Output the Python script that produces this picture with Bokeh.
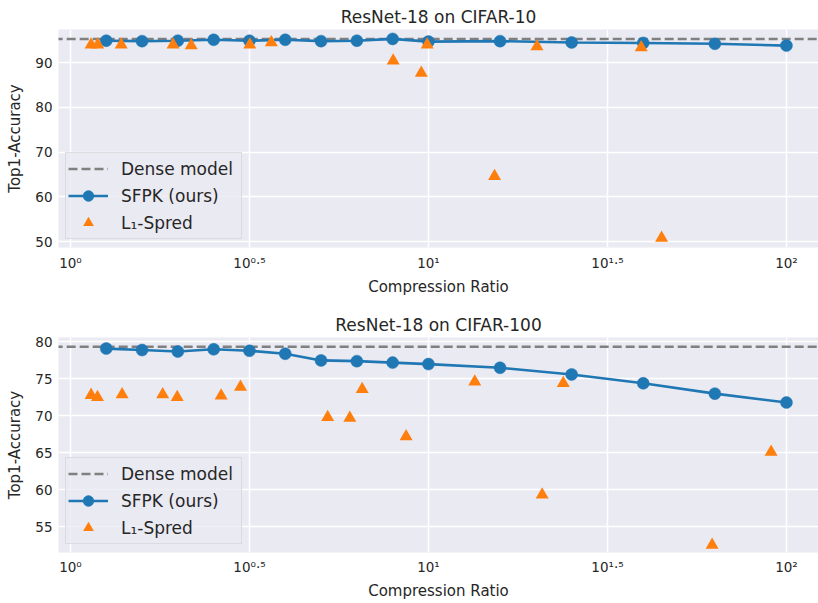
from bokeh.plotting import figure
from bokeh.models import FixedTicker, Legend, LegendItem, Range1d
from bokeh.layouts import column
from bokeh.embed import file_html
from bokeh.resources import INLINE

# ---------------- data ----------------
titles = ["ResNet-18 on CIFAR-10", "ResNet-18 on CIFAR-100"]

sfpk_ratio = [1.259, 1.585, 1.995, 2.512, 3.162, 3.981, 5.012, 6.310, 7.943,
              10.0, 15.85, 25.12, 39.81, 63.10, 100.0]

c10_sfpk_acc = [94.9, 94.8, 94.9, 95.1, 94.9, 95.1, 94.8, 94.9, 95.3,
                94.7, 94.8, 94.5, 94.4, 94.2, 93.8]
c10_dense_acc = 95.3
c10_l1_ratio = [1.142, 1.192, 1.386, 1.935, 2.174, 3.17, 3.64, 7.97, 9.55,
                9.92, 15.3, 20.1, 39.3, 44.8]
c10_l1_acc = [94.0, 94.0, 94.0, 94.0, 93.8, 94.0, 94.5, 90.4, 87.7,
              94.0, 64.6, 93.6, 93.4, 50.8]

c100_sfpk_acc = [79.1, 78.9, 78.7, 79.0, 78.8, 78.4, 77.5, 77.4, 77.2,
                 77.0, 76.5, 75.6, 74.4, 73.0, 71.8]
c100_dense_acc = 79.35
c100_l1_ratio = [1.142, 1.19, 1.394, 1.81, 1.987, 2.636, 2.985, 5.23, 6.03,
                 6.53, 8.66, 13.47, 20.78, 23.8, 62.0, 90.6]
c100_l1_acc = [72.8, 72.5, 72.9, 72.9, 72.5, 72.7, 73.9, 69.8, 69.7,
               73.6, 67.2, 74.6, 59.3, 74.4, 52.5, 65.1]

x_tick_values = [1.0, 3.1622776601683795, 10.0, 31.622776601683793, 100.0]
x_tick_labels = ["10\u2070", "10\u2070\u00b7\u2075", "10\u00b9", "10\u00b9\u00b7\u2075", "10\u00b2"]
c10_y_ticks = [50, 60, 70, 80, 90]
c100_y_ticks = [55, 60, 65, 70, 75, 80]

legend_labels = ["Dense model", "SFPK (ours)", "L\u2081-Spred"]

# ---------------- style ----------------
FONT = "DejaVu Sans"
TXT = "#262626"
BG = "#EAEAF2"
BLUE = "#1f77b4"
ORANGE = "#ff7f0e"


def make_plot(title, sfpk_acc, dense, l1_x, l1_y, yticks, yr, height,
              top, bottom, xstand, xlabstand):
    p = figure(width=818, height=height, x_axis_type="log",
               x_range=Range1d(0.926, 122.9), y_range=Range1d(*yr),
               output_backend="svg", toolbar_location=None,
               min_border_left=58, min_border_right=0,
               min_border_top=top, min_border_bottom=bottom,
               background_fill_color=BG, border_fill_color="white",
               outline_line_color=None)
    p.title.text = title
    p.title.text_font = FONT
    p.title.text_font_size = "17px"
    p.title.text_font_style = "normal"
    p.title.text_color = TXT
    p.title.align = "center"
    p.title.standoff = 6

    for ax in (p.xaxis, p.yaxis):
        ax.axis_line_color = None
        ax.major_tick_line_color = None
        ax.minor_tick_line_color = None
        ax.major_tick_out = 0
        ax.major_tick_in = 0
        ax.major_label_text_font = FONT
        ax.major_label_text_font_size = "13.5px"
        ax.major_label_text_color = TXT
        ax.axis_label_text_font = FONT
        ax.axis_label_text_font_size = "15px"
        ax.axis_label_text_font_style = "normal"
        ax.axis_label_text_color = TXT
    p.xaxis.ticker = FixedTicker(ticks=x_tick_values)
    p.xaxis.major_label_overrides = dict(zip(x_tick_values, x_tick_labels))
    p.xaxis.major_label_standoff = xstand
    p.xaxis.axis_label = "Compression Ratio"
    p.xaxis.axis_label_standoff = xlabstand
    p.yaxis.ticker = FixedTicker(ticks=yticks)
    p.yaxis.major_label_standoff = 6
    p.yaxis.axis_label = "Top1-Accuracy"
    p.yaxis.axis_label_standoff = 8

    p.xgrid.grid_line_color = "white"
    p.ygrid.grid_line_color = "white"
    p.xgrid.grid_line_width = 1.5
    p.ygrid.grid_line_width = 1.5

    r_dense = p.line([0.5, 300.0], [dense, dense], line_color="#808080",
                     line_width=2.5, line_dash="9 4")
    r_sline = p.line(sfpk_ratio, sfpk_acc, line_color=BLUE, line_width=2.6)
    r_sdot = p.scatter(sfpk_ratio, sfpk_acc, marker="circle", size=12,
                       fill_color=BLUE, line_color=BLUE, line_width=0.5)
    r_l1 = p.scatter(l1_x, l1_y, marker="triangle", size=13,
                     fill_color=ORANGE, line_color=None)

    legend = Legend(items=[
        LegendItem(label=legend_labels[0], renderers=[r_dense]),
        LegendItem(label=legend_labels[1], renderers=[r_sline, r_sdot]),
        LegendItem(label=legend_labels[2], renderers=[r_l1]),
    ], location=(7, 8))
    legend.label_text_font = FONT
    legend.label_text_font_size = "17px"
    legend.label_text_color = TXT
    legend.glyph_width = 40
    legend.glyph_height = 27
    legend.label_height = 27
    legend.label_width = 118
    legend.label_standoff = 13
    legend.spacing = 0
    legend.padding = 2
    legend.margin = 0
    legend.background_fill_color = BG
    legend.background_fill_alpha = 0.8
    legend.border_line_color = "#CCCCCC"
    legend.border_line_width = 1
    p.add_layout(legend)
    return p


p1 = make_plot(titles[0], c10_sfpk_acc, c10_dense_acc, c10_l1_ratio, c10_l1_acc,
               c10_y_ticks, (48.7, 97.4), 308, 29, 61, 7, 4)
p2 = make_plot(titles[1], c100_sfpk_acc, c100_dense_acc, c100_l1_ratio, c100_l1_acc,
               c100_y_ticks, (51.5, 80.6), 295, 29, 51, 6, 4)

layout = column(p1, p2, spacing=0)
open("out.html", "w").write(file_html(layout, INLINE))
